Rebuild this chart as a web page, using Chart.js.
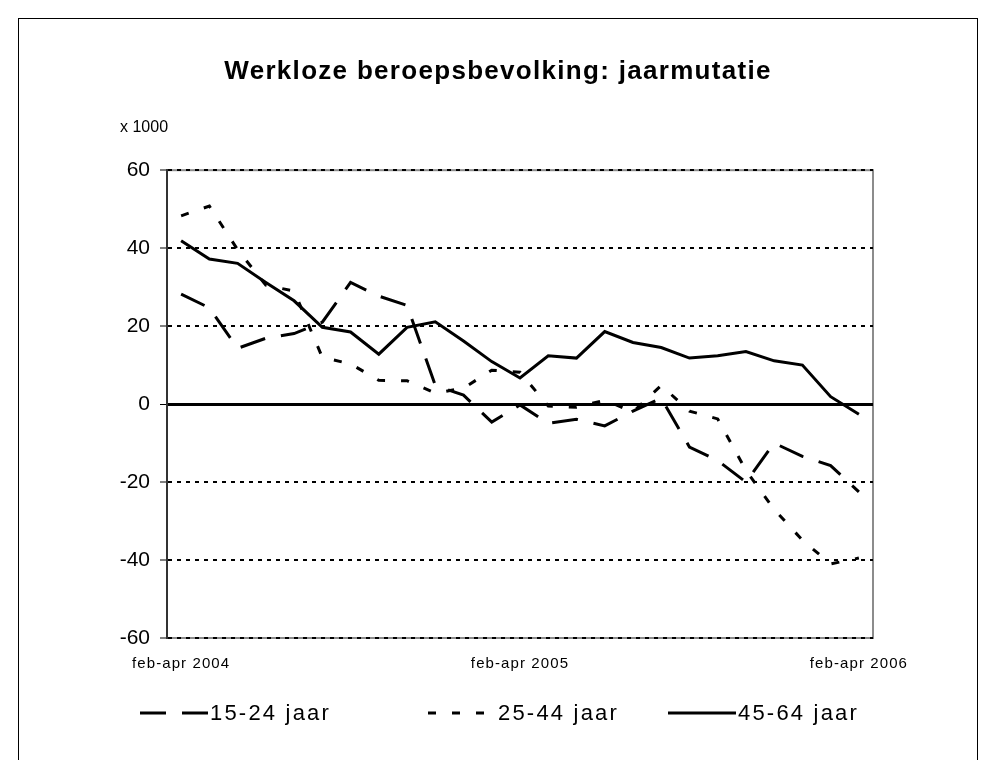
<!DOCTYPE html>
<html lang="nl">
<head>
<meta charset="UTF-8">
<title>Werkloze beroepsbevolking: jaarmutatie</title>
<script src="https://cdn.jsdelivr.net/npm/chart.js"></script>
<style>
    body { margin: 0; background: #fff; }
    #wrap { position: relative; width: 996px; height: 760px; overflow: hidden; }
    #frame { position: absolute; left: 18px; top: 18px; width: 960px; height: 800px;
             border: 1px solid #000; box-sizing: border-box; pointer-events: none; }
    #legend { position: absolute; left: 0; top: 700px; width: 996px; height: 26px;
              font: 22px 'Liberation Sans', Arial, sans-serif; letter-spacing: 2.2px; color: #000; }
    .item { position: absolute; top: 0; display: flex; align-items: center; white-space: nowrap; }
    .item:nth-child(1) { left: 140px; }
    .item:nth-child(2) { left: 428px; }
    .item:nth-child(3) { left: 668px; }
    .item svg { margin-right: 2px; }
</style>
</head>
<body>
<div id="wrap">
    <canvas id="myChart" width="996" height="760"></canvas>
    <div id="frame"></div>
    <div id="legend"></div>
</div>
<script>
// perioden (voortschrijdende kwartalen)
const perioden = ['feb-apr 2004', 'mrt-mei 2004', 'apr-jun 2004', 'mei-jul 2004', 'jun-aug 2004',
    'jul-sep 2004', 'aug-okt 2004', 'sep-nov 2004', 'okt-dec 2004', 'nov-jan 2005', 'dec-feb 2005',
    'jan-mrt 2005', 'feb-apr 2005', 'mrt-mei 2005', 'apr-jun 2005', 'mei-jul 2005', 'jun-aug 2005',
    'jul-sep 2005', 'aug-okt 2005', 'sep-nov 2005', 'okt-dec 2005', 'nov-jan 2006', 'dec-feb 2006',
    'jan-mrt 2006', 'feb-apr 2006'];

// jaarmutatie x 1000
const jaar15_24 = [28.2, 24.7, 14.3, 16.9, 18.1, 21.0, 31.2, 27.7, 25.3, 4.8, 2.3, -4.6, -0.2,
    -4.9, -3.9, -5.6, -1.8, 1.5, -11.0, -14.5, -20.0, -10.0, -13.4, -15.8, -22.5];
const jaar25_44 = [48.3, 50.8, 39.6, 30.5, 29.0, 12.0, 10.3, 6.1, 6.0, 2.8, 4.1, 8.7, 8.2,
    -0.5, -0.8, 1.0, -2.0, 4.8, -1.8, -3.8, -17.0, -27.0, -34.9, -41.0, -39.5];
const jaar45_64 = [41.9, 37.2, 36.1, 31.2, 26.5, 19.7, 18.5, 12.8, 19.7, 21.1, 16.2, 10.9, 6.7,
    12.4, 11.8, 18.6, 15.8, 14.5, 11.8, 12.4, 13.5, 11.1, 10.0, 1.9, -2.6];

// as-labels
const xLabels = ['feb-apr 2004', 'feb-apr 2005', 'feb-apr 2006'];
const yTicks = [-60, -40, -20, 0, 20, 40, 60];

const FONT = "'Liberation Sans', Arial, sans-serif";

// tekst met wat extra letterafstand (zoals in het origineel)
function spaced(obj, name, spacing) {
    const orig = obj[name];
    obj[name] = function (...args) {
        const c = this.ctx;
        c.save();
        c.letterSpacing = spacing;
        const r = orig.apply(this, args);
        c.restore();
        return r;
    };
}

// grijze rand om het plotgebied + "x 1000"
const plotFrame = {
    id: 'plotFrame',
    afterLayout(chart) {
        if (!chart._spaced) {
            spaced(chart.titleBlock, 'draw', '1.3px');
            spaced(chart.scales.x, 'drawLabels', '1.1px');
            chart._spaced = true;
        }
    },
    beforeDraw(chart) {
        const { ctx, chartArea: a } = chart;
        ctx.save();
        ctx.strokeStyle = '#8c8c8c';
        ctx.lineWidth = 2;
        ctx.strokeRect(a.left, a.top, a.right - a.left, a.bottom - a.top);
        ctx.fillStyle = '#000';
        ctx.font = '16px ' + FONT;
        ctx.textBaseline = 'middle';
        ctx.fillText('x 1000', 120, 128);
        ctx.restore();
    }
};

const ctx = document.getElementById('myChart').getContext('2d');
const myChart = new Chart(ctx, {
    type: 'line',
    data: {
        labels: perioden,
        datasets: [
            { label: '15-24 jaar', data: jaar15_24, borderDash: [26, 16] },
            { label: '25-44 jaar', data: jaar25_44, borderDash: [8, 16] },
            { label: '45-64 jaar', data: jaar45_64, borderDash: [] }
        ].map(d => Object.assign(d, {
            borderColor: '#000', borderWidth: 3, pointRadius: 0, tension: 0, fill: false,
            yAxisID: 'y'
        }))
    },
    options: {
        responsive: false,
        animation: false,
        layout: { padding: { left: 0, right: 0, top: 0, bottom: 82 } },
        plugins: {
            legend: { display: false },
            tooltip: { enabled: false },
            title: {
                display: true,
                text: 'Werkloze beroepsbevolking: jaarmutatie',
                color: '#000',
                font: { family: FONT, size: 26, weight: 'bold' },
                padding: { top: 56, bottom: 83 }
            }
        },
        scales: {
            x: {
                offset: true,
                grid: { display: false },
                border: { display: false },
                ticks: {
                    autoSkip: false, maxRotation: 0, padding: 9, color: '#000',
                    font: { family: FONT, size: 15 },
                    callback(v) {
                        const l = this.getLabelForValue(v);
                        return xLabels.includes(l) ? l : '';
                    }
                },
                afterFit(s) { s.height = 40; s.paddingLeft = 0; s.paddingRight = 0; }
            },
            y: {
                min: yTicks[0],
                max: yTicks[yTicks.length - 1],
                ticks: { stepSize: yTicks[1] - yTicks[0], padding: 10, color: '#000',
                         font: { family: FONT, size: 21 } },
                grid: {
                    color: '#000',
                    lineWidth: c => (c.tick && c.tick.value === 0) ? 3 : 2,
                    tickLength: 7, tickColor: '#000', tickWidth: 1, tickBorderDash: []
                },
                border: {
                    display: true, color: '#333', width: 2,
                    dash: c => (c.tick && c.tick.value === 0) ? [] : [4, 5]
                },
                afterFit(s) { s.width = 167; }
            },
            // lege ruimte rechts van het plotgebied
            rechts: {
                position: 'right',
                grid: { display: false },
                border: { display: false },
                ticks: { display: false },
                afterFit(s) { s.width = 123; }
            }
        }
    },
    plugins: [plotFrame]
});

// legenda onder de grafiek
const legend = document.getElementById('legend');
myChart.data.datasets.forEach(ds => {
    const item = document.createElement('div');
    item.className = 'item';
    item.innerHTML = '<svg width="68" height="26"><line x1="0" y1="13" x2="68" y2="13" stroke="#000" stroke-width="'
        + ds.borderWidth + '" stroke-dasharray="' + (ds.borderDash.length ? ds.borderDash.join(' ') : 'none')
        + '"/></svg><span>' + ds.label + '</span>';
    legend.appendChild(item);
});
</script>
</body>
</html>
